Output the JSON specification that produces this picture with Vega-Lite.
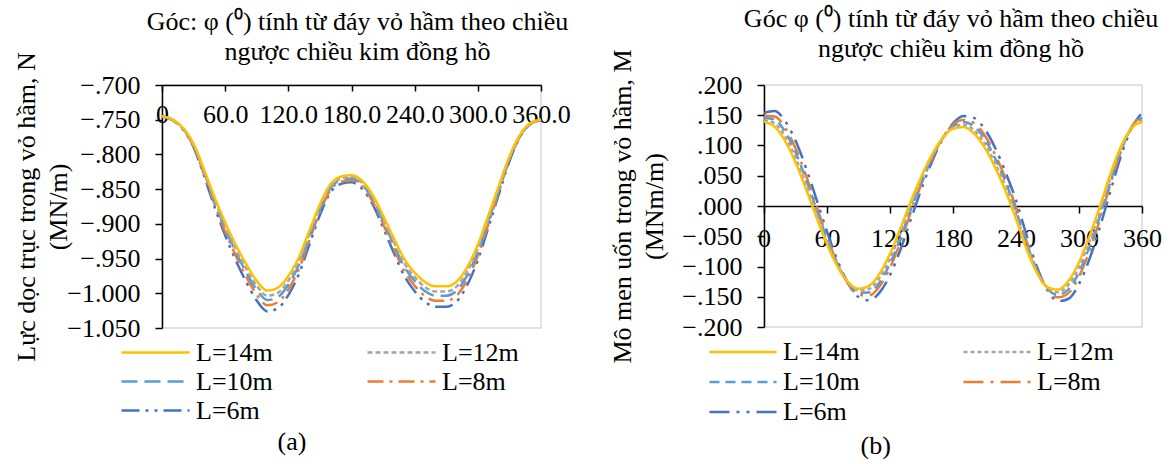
{
  "$schema": "https://vega.github.io/schema/vega-lite/v6.json",
  "padding": {"left": 13, "top": 5, "right": 0, "bottom": 0},
  "background": "white",
  "datasets": {
    "N": [
      {"phi":0,"L":"L=6m","N":-0.745},{"phi":10,"L":"L=6m","N":-0.7506},{"phi":20,"L":"L=6m","N":-0.764},{"phi":30,"L":"L=6m","N":-0.7898},{"phi":40,"L":"L=6m","N":-0.8312},{"phi":50,"L":"L=6m","N":-0.876},{"phi":60,"L":"L=6m","N":-0.9164},{"phi":70,"L":"L=6m","N":-0.9522},{"phi":80,"L":"L=6m","N":-0.9836},{"phi":90,"L":"L=6m","N":-1.0104},{"phi":100,"L":"L=6m","N":-1.0261},{"phi":110,"L":"L=6m","N":-1.0216},{"phi":120,"L":"L=6m","N":-1.0026},{"phi":130,"L":"L=6m","N":-0.9724},{"phi":140,"L":"L=6m","N":-0.9298},{"phi":150,"L":"L=6m","N":-0.8872},{"phi":160,"L":"L=6m","N":-0.8548},{"phi":170,"L":"L=6m","N":-0.8424},{"phi":180,"L":"L=6m","N":-0.8402},{"phi":190,"L":"L=6m","N":-0.8492},{"phi":200,"L":"L=6m","N":-0.8716},{"phi":210,"L":"L=6m","N":-0.9052},{"phi":220,"L":"L=6m","N":-0.941},{"phi":230,"L":"L=6m","N":-0.9746},{"phi":240,"L":"L=6m","N":-0.997},{"phi":250,"L":"L=6m","N":-1.0127},{"phi":260,"L":"L=6m","N":-1.0194},{"phi":270,"L":"L=6m","N":-1.0194},{"phi":280,"L":"L=6m","N":-1.0116},{"phi":290,"L":"L=6m","N":-0.988},{"phi":300,"L":"L=6m","N":-0.9522},{"phi":310,"L":"L=6m","N":-0.9052},{"phi":320,"L":"L=6m","N":-0.857},{"phi":330,"L":"L=6m","N":-0.81},{"phi":340,"L":"L=6m","N":-0.7752},{"phi":350,"L":"L=6m","N":-0.7562},{"phi":360,"L":"L=6m","N":-0.7506},
      {"phi":0,"L":"L=8m","N":-0.745},{"phi":10,"L":"L=8m","N":-0.7504},{"phi":20,"L":"L=8m","N":-0.7634},{"phi":30,"L":"L=8m","N":-0.7884},{"phi":40,"L":"L=8m","N":-0.8285},{"phi":50,"L":"L=8m","N":-0.8719},{"phi":60,"L":"L=8m","N":-0.911},{"phi":70,"L":"L=8m","N":-0.9457},{"phi":80,"L":"L=8m","N":-0.9761},{"phi":90,"L":"L=8m","N":-1.0021},{"phi":100,"L":"L=8m","N":-1.0173},{"phi":110,"L":"L=8m","N":-1.013},{"phi":120,"L":"L=8m","N":-0.9946},{"phi":130,"L":"L=8m","N":-0.9653},{"phi":140,"L":"L=8m","N":-0.924},{"phi":150,"L":"L=8m","N":-0.8828},{"phi":160,"L":"L=8m","N":-0.8513},{"phi":170,"L":"L=8m","N":-0.8394},{"phi":180,"L":"L=8m","N":-0.8372},{"phi":190,"L":"L=8m","N":-0.8459},{"phi":200,"L":"L=8m","N":-0.8676},{"phi":210,"L":"L=8m","N":-0.9002},{"phi":220,"L":"L=8m","N":-0.9349},{"phi":230,"L":"L=8m","N":-0.9674},{"phi":240,"L":"L=8m","N":-0.9891},{"phi":250,"L":"L=8m","N":-1.0043},{"phi":260,"L":"L=8m","N":-1.0108},{"phi":270,"L":"L=8m","N":-1.0108},{"phi":280,"L":"L=8m","N":-1.0032},{"phi":290,"L":"L=8m","N":-0.9804},{"phi":300,"L":"L=8m","N":-0.9457},{"phi":310,"L":"L=8m","N":-0.9002},{"phi":320,"L":"L=8m","N":-0.8535},{"phi":330,"L":"L=8m","N":-0.8079},{"phi":340,"L":"L=8m","N":-0.7743},{"phi":350,"L":"L=8m","N":-0.7559},{"phi":360,"L":"L=8m","N":-0.7504},
      {"phi":0,"L":"L=10m","N":-0.745},{"phi":10,"L":"L=10m","N":-0.7503},{"phi":20,"L":"L=10m","N":-0.7629},{"phi":30,"L":"L=10m","N":-0.7872},{"phi":40,"L":"L=10m","N":-0.8262},{"phi":50,"L":"L=10m","N":-0.8684},{"phi":60,"L":"L=10m","N":-0.9064},{"phi":70,"L":"L=10m","N":-0.9402},{"phi":80,"L":"L=10m","N":-0.9697},{"phi":90,"L":"L=10m","N":-0.995},{"phi":100,"L":"L=10m","N":-1.0098},{"phi":110,"L":"L=10m","N":-1.0056},{"phi":120,"L":"L=10m","N":-0.9877},{"phi":130,"L":"L=10m","N":-0.9592},{"phi":140,"L":"L=10m","N":-0.9191},{"phi":150,"L":"L=10m","N":-0.879},{"phi":160,"L":"L=10m","N":-0.8484},{"phi":170,"L":"L=10m","N":-0.8368},{"phi":180,"L":"L=10m","N":-0.8347},{"phi":190,"L":"L=10m","N":-0.8431},{"phi":200,"L":"L=10m","N":-0.8642},{"phi":210,"L":"L=10m","N":-0.8959},{"phi":220,"L":"L=10m","N":-0.9296},{"phi":230,"L":"L=10m","N":-0.9613},{"phi":240,"L":"L=10m","N":-0.9824},{"phi":250,"L":"L=10m","N":-0.9971},{"phi":260,"L":"L=10m","N":-1.0035},{"phi":270,"L":"L=10m","N":-1.0035},{"phi":280,"L":"L=10m","N":-0.9961},{"phi":290,"L":"L=10m","N":-0.9739},{"phi":300,"L":"L=10m","N":-0.9402},{"phi":310,"L":"L=10m","N":-0.8959},{"phi":320,"L":"L=10m","N":-0.8505},{"phi":330,"L":"L=10m","N":-0.8062},{"phi":340,"L":"L=10m","N":-0.7735},{"phi":350,"L":"L=10m","N":-0.7556},{"phi":360,"L":"L=10m","N":-0.7503},
      {"phi":0,"L":"L=12m","N":-0.745},{"phi":10,"L":"L=12m","N":-0.7502},{"phi":20,"L":"L=12m","N":-0.7625},{"phi":30,"L":"L=12m","N":-0.7862},{"phi":40,"L":"L=12m","N":-0.8243},{"phi":50,"L":"L=12m","N":-0.8655},{"phi":60,"L":"L=12m","N":-0.9026},{"phi":70,"L":"L=12m","N":-0.9356},{"phi":80,"L":"L=12m","N":-0.9644},{"phi":90,"L":"L=12m","N":-0.9891},{"phi":100,"L":"L=12m","N":-1.0035},{"phi":110,"L":"L=12m","N":-0.9994},{"phi":120,"L":"L=12m","N":-0.9819},{"phi":130,"L":"L=12m","N":-0.9541},{"phi":140,"L":"L=12m","N":-0.915},{"phi":150,"L":"L=12m","N":-0.8758},{"phi":160,"L":"L=12m","N":-0.8459},{"phi":170,"L":"L=12m","N":-0.8346},{"phi":180,"L":"L=12m","N":-0.8326},{"phi":190,"L":"L=12m","N":-0.8408},{"phi":200,"L":"L=12m","N":-0.8614},{"phi":210,"L":"L=12m","N":-0.8923},{"phi":220,"L":"L=12m","N":-0.9253},{"phi":230,"L":"L=12m","N":-0.9562},{"phi":240,"L":"L=12m","N":-0.9768},{"phi":250,"L":"L=12m","N":-0.9912},{"phi":260,"L":"L=12m","N":-0.9974},{"phi":270,"L":"L=12m","N":-0.9974},{"phi":280,"L":"L=12m","N":-0.9901},{"phi":290,"L":"L=12m","N":-0.9685},{"phi":300,"L":"L=12m","N":-0.9356},{"phi":310,"L":"L=12m","N":-0.8923},{"phi":320,"L":"L=12m","N":-0.848},{"phi":330,"L":"L=12m","N":-0.8047},{"phi":340,"L":"L=12m","N":-0.7728},{"phi":350,"L":"L=12m","N":-0.7553},{"phi":360,"L":"L=12m","N":-0.7502},
      {"phi":0,"L":"L=14m","N":-0.745},{"phi":10,"L":"L=14m","N":-0.75},{"phi":20,"L":"L=14m","N":-0.762},{"phi":30,"L":"L=14m","N":-0.785},{"phi":40,"L":"L=14m","N":-0.822},{"phi":50,"L":"L=14m","N":-0.862},{"phi":60,"L":"L=14m","N":-0.898},{"phi":70,"L":"L=14m","N":-0.93},{"phi":80,"L":"L=14m","N":-0.958},{"phi":90,"L":"L=14m","N":-0.982},{"phi":100,"L":"L=14m","N":-0.996},{"phi":110,"L":"L=14m","N":-0.992},{"phi":120,"L":"L=14m","N":-0.975},{"phi":130,"L":"L=14m","N":-0.948},{"phi":140,"L":"L=14m","N":-0.91},{"phi":150,"L":"L=14m","N":-0.872},{"phi":160,"L":"L=14m","N":-0.843},{"phi":170,"L":"L=14m","N":-0.832},{"phi":180,"L":"L=14m","N":-0.83},{"phi":190,"L":"L=14m","N":-0.838},{"phi":200,"L":"L=14m","N":-0.858},{"phi":210,"L":"L=14m","N":-0.888},{"phi":220,"L":"L=14m","N":-0.92},{"phi":230,"L":"L=14m","N":-0.95},{"phi":240,"L":"L=14m","N":-0.97},{"phi":250,"L":"L=14m","N":-0.984},{"phi":260,"L":"L=14m","N":-0.99},{"phi":270,"L":"L=14m","N":-0.99},{"phi":280,"L":"L=14m","N":-0.983},{"phi":290,"L":"L=14m","N":-0.962},{"phi":300,"L":"L=14m","N":-0.93},{"phi":310,"L":"L=14m","N":-0.888},{"phi":320,"L":"L=14m","N":-0.845},{"phi":330,"L":"L=14m","N":-0.803},{"phi":340,"L":"L=14m","N":-0.772},{"phi":350,"L":"L=14m","N":-0.755},{"phi":360,"L":"L=14m","N":-0.75}
    ],
    "M": [
      {"phi":0,"L":"L=6m","M":0.1541},{"phi":10,"L":"L=6m","M":0.157},{"phi":20,"L":"L=6m","M":0.1407},{"phi":30,"L":"L=6m","M":0.1082},{"phi":40,"L":"L=6m","M":0.0631},{"phi":50,"L":"L=6m","M":0.0108},{"phi":60,"L":"L=6m","M":-0.0421},{"phi":70,"L":"L=6m","M":-0.0901},{"phi":80,"L":"L=6m","M":-0.1276},{"phi":90,"L":"L=6m","M":-0.1504},{"phi":100,"L":"L=6m","M":-0.1558},{"phi":110,"L":"L=6m","M":-0.1432},{"phi":120,"L":"L=6m","M":-0.1142},{"phi":130,"L":"L=6m","M":-0.0719},{"phi":140,"L":"L=6m","M":-0.0213},{"phi":150,"L":"L=6m","M":0.0286},{"phi":160,"L":"L=6m","M":0.0733},{"phi":170,"L":"L=6m","M":0.1105},{"phi":180,"L":"L=6m","M":0.1366},{"phi":190,"L":"L=6m","M":0.1487},{"phi":200,"L":"L=6m","M":0.1456},{"phi":210,"L":"L=6m","M":0.1277},{"phi":220,"L":"L=6m","M":0.0968},{"phi":230,"L":"L=6m","M":0.056},{"phi":240,"L":"L=6m","M":0.0096},{"phi":250,"L":"L=6m","M":-0.0478},{"phi":260,"L":"L=6m","M":-0.1008},{"phi":270,"L":"L=6m","M":-0.1392},{"phi":280,"L":"L=6m","M":-0.1574},{"phi":290,"L":"L=6m","M":-0.1533},{"phi":300,"L":"L=6m","M":-0.1289},{"phi":310,"L":"L=6m","M":-0.0875},{"phi":320,"L":"L=6m","M":-0.0344},{"phi":330,"L":"L=6m","M":0.0248},{"phi":340,"L":"L=6m","M":0.0828},{"phi":350,"L":"L=6m","M":0.1282},{"phi":360,"L":"L=6m","M":0.1541},
      {"phi":0,"L":"L=8m","M":0.149},{"phi":10,"L":"L=8m","M":0.148},{"phi":20,"L":"L=8m","M":0.1297},{"phi":30,"L":"L=8m","M":0.0956},{"phi":40,"L":"L=8m","M":0.0504},{"phi":50,"L":"L=8m","M":-0.0005},{"phi":60,"L":"L=8m","M":-0.0507},{"phi":70,"L":"L=8m","M":-0.095},{"phi":80,"L":"L=8m","M":-0.1283},{"phi":90,"L":"L=8m","M":-0.1469},{"phi":100,"L":"L=8m","M":-0.1478},{"phi":110,"L":"L=8m","M":-0.1329},{"phi":120,"L":"L=8m","M":-0.102},{"phi":130,"L":"L=8m","M":-0.0591},{"phi":140,"L":"L=8m","M":-0.0096},{"phi":150,"L":"L=8m","M":0.0368},{"phi":160,"L":"L=8m","M":0.0785},{"phi":170,"L":"L=8m","M":0.1122},{"phi":180,"L":"L=8m","M":0.1346},{"phi":190,"L":"L=8m","M":0.1421},{"phi":200,"L":"L=8m","M":0.1372},{"phi":210,"L":"L=8m","M":0.1173},{"phi":220,"L":"L=8m","M":0.0854},{"phi":230,"L":"L=8m","M":0.0457},{"phi":240,"L":"L=8m","M":-0.0022},{"phi":250,"L":"L=8m","M":-0.0577},{"phi":260,"L":"L=8m","M":-0.1062},{"phi":270,"L":"L=8m","M":-0.1394},{"phi":280,"L":"L=8m","M":-0.151},{"phi":290,"L":"L=8m","M":-0.144},{"phi":300,"L":"L=8m","M":-0.1167},{"phi":310,"L":"L=8m","M":-0.0741},{"phi":320,"L":"L=8m","M":-0.0223},{"phi":330,"L":"L=8m","M":0.0364},{"phi":340,"L":"L=8m","M":0.0903},{"phi":350,"L":"L=8m","M":0.1305},{"phi":360,"L":"L=8m","M":0.149},
      {"phi":0,"L":"L=10m","M":0.146},{"phi":10,"L":"L=10m","M":0.1431},{"phi":20,"L":"L=10m","M":0.123},{"phi":30,"L":"L=10m","M":0.0888},{"phi":40,"L":"L=10m","M":0.0442},{"phi":50,"L":"L=10m","M":-0.0053},{"phi":60,"L":"L=10m","M":-0.0536},{"phi":70,"L":"L=10m","M":-0.0957},{"phi":80,"L":"L=10m","M":-0.1267},{"phi":90,"L":"L=10m","M":-0.1432},{"phi":100,"L":"L=10m","M":-0.1431},{"phi":110,"L":"L=10m","M":-0.1264},{"phi":120,"L":"L=10m","M":-0.0952},{"phi":130,"L":"L=10m","M":-0.0529},{"phi":140,"L":"L=10m","M":-0.0048},{"phi":150,"L":"L=10m","M":0.0398},{"phi":160,"L":"L=10m","M":0.0796},{"phi":170,"L":"L=10m","M":0.1114},{"phi":180,"L":"L=10m","M":0.1318},{"phi":190,"L":"L=10m","M":0.1388},{"phi":200,"L":"L=10m","M":0.1317},{"phi":210,"L":"L=10m","M":0.1111},{"phi":220,"L":"L=10m","M":0.0792},{"phi":230,"L":"L=10m","M":0.0399},{"phi":240,"L":"L=10m","M":-0.0072},{"phi":250,"L":"L=10m","M":-0.0608},{"phi":260,"L":"L=10m","M":-0.1066},{"phi":270,"L":"L=10m","M":-0.137},{"phi":280,"L":"L=10m","M":-0.147},{"phi":290,"L":"L=10m","M":-0.1376},{"phi":300,"L":"L=10m","M":-0.1096},{"phi":310,"L":"L=10m","M":-0.0671},{"phi":320,"L":"L=10m","M":-0.0163},{"phi":330,"L":"L=10m","M":0.0406},{"phi":340,"L":"L=10m","M":0.0918},{"phi":350,"L":"L=10m","M":0.129},{"phi":360,"L":"L=10m","M":0.146},
      {"phi":0,"L":"L=12m","M":0.142},{"phi":10,"L":"L=12m","M":0.1367},{"phi":20,"L":"L=12m","M":0.115},{"phi":30,"L":"L=12m","M":0.0801},{"phi":40,"L":"L=12m","M":0.036},{"phi":50,"L":"L=12m","M":-0.0121},{"phi":60,"L":"L=12m","M":-0.0583},{"phi":70,"L":"L=12m","M":-0.0978},{"phi":80,"L":"L=12m","M":-0.1259},{"phi":90,"L":"L=12m","M":-0.1396},{"phi":100,"L":"L=12m","M":-0.1371},{"phi":110,"L":"L=12m","M":-0.1188},{"phi":120,"L":"L=12m","M":-0.0867},{"phi":130,"L":"L=12m","M":-0.0446},{"phi":140,"L":"L=12m","M":0.002},{"phi":150,"L":"L=12m","M":0.0445},{"phi":160,"L":"L=12m","M":0.0822},{"phi":170,"L":"L=12m","M":0.1115},{"phi":180,"L":"L=12m","M":0.1295},{"phi":190,"L":"L=12m","M":0.1343},{"phi":200,"L":"L=12m","M":0.1254},{"phi":210,"L":"L=12m","M":0.1037},{"phi":220,"L":"L=12m","M":0.0714},{"phi":230,"L":"L=12m","M":0.0322},{"phi":240,"L":"L=12m","M":-0.0144},{"phi":250,"L":"L=12m","M":-0.0659},{"phi":260,"L":"L=12m","M":-0.1084},{"phi":270,"L":"L=12m","M":-0.1352},{"phi":280,"L":"L=12m","M":-0.1425},{"phi":290,"L":"L=12m","M":-0.1302},{"phi":300,"L":"L=12m","M":-0.1008},{"phi":310,"L":"L=12m","M":-0.0581},{"phi":320,"L":"L=12m","M":-0.0079},{"phi":330,"L":"L=12m","M":0.047},{"phi":340,"L":"L=12m","M":0.095},{"phi":350,"L":"L=12m","M":0.1285},{"phi":360,"L":"L=12m","M":0.142},
      {"phi":0,"L":"L=14m","M":0.139},{"phi":10,"L":"L=14m","M":0.131},{"phi":20,"L":"L=14m","M":0.1078},{"phi":30,"L":"L=14m","M":0.0722},{"phi":40,"L":"L=14m","M":0.0283},{"phi":50,"L":"L=14m","M":-0.0187},{"phi":60,"L":"L=14m","M":-0.063},{"phi":70,"L":"L=14m","M":-0.1001},{"phi":80,"L":"L=14m","M":-0.1256},{"phi":90,"L":"L=14m","M":-0.1367},{"phi":100,"L":"L=14m","M":-0.1319},{"phi":110,"L":"L=14m","M":-0.1119},{"phi":120,"L":"L=14m","M":-0.079},{"phi":130,"L":"L=14m","M":-0.037},{"phi":140,"L":"L=14m","M":0.0084},{"phi":150,"L":"L=14m","M":0.0492},{"phi":160,"L":"L=14m","M":0.0849},{"phi":170,"L":"L=14m","M":0.112},{"phi":180,"L":"L=14m","M":0.1277},{"phi":190,"L":"L=14m","M":0.1304},{"phi":200,"L":"L=14m","M":0.1198},{"phi":210,"L":"L=14m","M":0.097},{"phi":220,"L":"L=14m","M":0.0643},{"phi":230,"L":"L=14m","M":0.025},{"phi":240,"L":"L=14m","M":-0.0212},{"phi":250,"L":"L=14m","M":-0.071},{"phi":260,"L":"L=14m","M":-0.1105},{"phi":270,"L":"L=14m","M":-0.134},{"phi":280,"L":"L=14m","M":-0.1382},{"phi":290,"L":"L=14m","M":-0.1236},{"phi":300,"L":"L=14m","M":-0.0928},{"phi":310,"L":"L=14m","M":-0.0497},{"phi":320,"L":"L=14m","M":0.0},{"phi":330,"L":"L=14m","M":0.0532},{"phi":340,"L":"L=14m","M":0.0983},{"phi":350,"L":"L=14m","M":0.1284},{"phi":360,"L":"L=14m","M":0.139}
    ]
  },
  "hconcat": [
    {
      "title": {"text": "(a)", "orient": "bottom", "anchor": "middle", "offset": 4},
      "vconcat": [
        {
          "width": 379,
          "height": 243,
          "data": {"name": "N"},
          "title": {"text": ["Góc: φ (⁰) tính từ đáy vỏ hầm theo chiều", "ngược chiều kim đồng hồ"], "dx": 6, "offset": -13},
          "mark": {"type": "line", "strokeWidth": 2.5, "interpolate": "monotone"},
          "encoding": {
            "x": {"field": "phi", "type": "quantitative", "scale": {"domain": [0, 360], "nice": false},
              "axis": {"orient": "bottom", "offset": -243, "values": [0, 60, 120, 180, 240, 300, 360], "labelExpr": "datum.value == 0 ? '0' : format(datum.value, '.1f')", "title": null, "tickSize": 6, "labelPadding": 10, "labelFlush": false, "labelOverlap": false, "labelFont": "Liberation Serif, Times New Roman, serif"}},
            "y": {"field": "N", "type": "quantitative", "scale": {"domain": [-1.05, -0.7], "nice": false, "zero": false},
              "axis": {"values": [-1.05, -1, -0.95, -0.9, -0.85, -0.8, -0.75, -0.7], "labelExpr": "replace(format(datum.value, '.3f'), '0.', '.')", "title": ["Lực dọc trục trong vỏ hầm, N", "(MN/m)"], "tickSize": 7, "labelPadding": 15, "titlePadding": -5, "titleLineHeight": 32, "labelFont": "Liberation Serif, Times New Roman, serif"}},
            "color": {"field": "L", "type": "nominal",
              "scale": {"domain": ["L=14m", "L=12m", "L=10m", "L=8m", "L=6m"], "range": ["#FFC000", "#A5A5A5", "#5B9BD5", "#ED7D31", "#4472C4"]},
              "legend": {"title": null, "orient": "none", "direction": "horizontal", "legendX": -42, "legendY": 253, "columns": 2, "columnPadding": 93, "rowPadding": 0, "clipHeight": 29, "symbolType": "stroke", "symbolSize": 4624, "symbolStrokeWidth": 2.5, "labelOffset": 5}},
            "strokeDash": {"field": "L", "type": "nominal",
              "scale": {"domain": ["L=14m", "L=12m", "L=10m", "L=8m", "L=6m"], "range": [[1, 0], [5, 3], [16, 7], [16, 6, 3, 6], [18, 6, 3, 6, 3, 6]]},
              "legend": {"title": null, "orient": "none", "direction": "horizontal", "legendX": -42, "legendY": 253, "columns": 2, "columnPadding": 93, "rowPadding": 0, "clipHeight": 29, "symbolType": "stroke", "symbolSize": 4624, "symbolStrokeWidth": 2.5, "labelOffset": 5}}
          }
        }
      ]
    },
    {
      "title": {"text": "(b)", "orient": "bottom", "anchor": "middle", "offset": 6, "dx": -10},
      "vconcat": [
        {
          "width": 378,
          "height": 242,
          "data": {"name": "M"},
          "title": {"text": ["Góc φ (⁰) tính từ đáy vỏ hầm theo chiều", "ngược chiều kim đồng hồ"], "dx": -2, "offset": -13},
          "mark": {"type": "line", "strokeWidth": 2.5, "interpolate": "monotone"},
          "encoding": {
            "x": {"field": "phi", "type": "quantitative", "scale": {"domain": [0, 360], "nice": false},
              "axis": {"orient": "bottom", "offset": -121, "values": [0, 60, 120, 180, 240, 300, 360], "format": "d", "title": null, "tickSize": 7, "labelPadding": 12, "labelFlush": false, "labelOverlap": false, "labelFont": "Liberation Serif, Times New Roman, serif"}},
            "y": {"field": "M", "type": "quantitative", "scale": {"domain": [-0.2, 0.2], "nice": false, "zero": false},
              "axis": {"values": [-0.2, -0.15, -0.1, -0.05, 0, 0.05, 0.1, 0.15, 0.2], "labelExpr": "replace(format(datum.value, '.3f'), '0.', '.')", "title": ["Mô men uốn trong vỏ hầm, M", "(MNm/m)"], "tickSize": 7, "labelPadding": 15, "titlePadding": 14, "titleLineHeight": 32, "labelFont": "Liberation Serif, Times New Roman, serif"}},
            "color": {"field": "L", "type": "nominal",
              "scale": {"domain": ["L=14m", "L=12m", "L=10m", "L=8m", "L=6m"], "range": ["#FFC000", "#A5A5A5", "#5B9BD5", "#ED7D31", "#4472C4"]},
              "legend": {"title": null, "orient": "none", "direction": "horizontal", "legendX": -56, "legendY": 252, "columns": 2, "columnPadding": 102, "rowPadding": 0, "clipHeight": 30, "symbolType": "stroke", "symbolSize": 4489, "symbolStrokeWidth": 2.5, "labelOffset": 5}},
            "strokeDash": {"field": "L", "type": "nominal",
              "scale": {"domain": ["L=14m", "L=12m", "L=10m", "L=8m", "L=6m"], "range": [[1, 0], [4, 3], [10, 6], [20, 7, 3, 7], [20, 7, 3, 7, 3, 7]]},
              "legend": {"title": null, "orient": "none", "direction": "horizontal", "legendX": -56, "legendY": 252, "columns": 2, "columnPadding": 102, "rowPadding": 0, "clipHeight": 30, "symbolType": "stroke", "symbolSize": 4489, "symbolStrokeWidth": 2.5, "labelOffset": 5}}
          }
        }
      ]
    }
  ],
  "spacing": 38,
  "resolve": {"scale": {"color": "independent", "strokeDash": "independent", "x": "independent", "y": "independent"}},
  "config": {
    "font": "Liberation Serif, Times New Roman, serif",
    "view": {"stroke": "#d9d9d9", "strokeWidth": 1.5},
    "axis": {"labelFont": "Liberation Serif, Times New Roman, serif", "labelFontSize": 26, "labelColor": "black", "titleFont": "Liberation Serif, Times New Roman, serif", "titleFontSize": 26, "titleFontWeight": "normal", "titleColor": "black", "domainColor": "black", "domainWidth": 1.5, "tickColor": "black", "tickWidth": 1.5, "grid": false},
    "legend": {"labelFont": "Liberation Serif, Times New Roman, serif", "labelFontSize": 26, "labelColor": "black", "labelLimit": 0},
    "title": {"font": "Liberation Serif, Times New Roman, serif", "fontSize": 26, "fontWeight": "normal", "color": "black", "lineHeight": 30}
  }
}
